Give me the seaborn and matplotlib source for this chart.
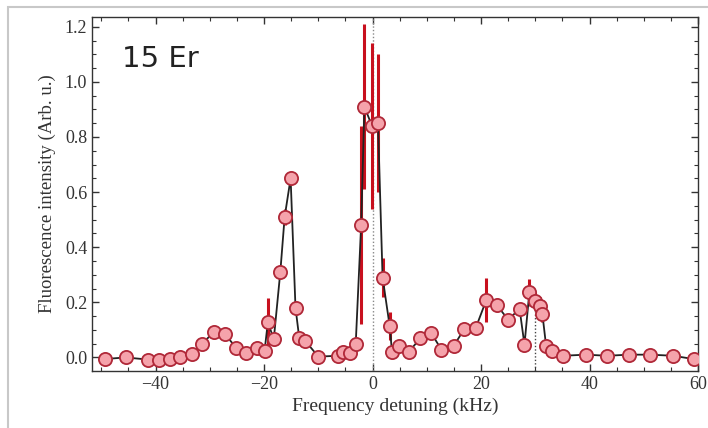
import numpy as np
import pandas as pd
import matplotlib
matplotlib.use("Agg")
import matplotlib.pyplot as plt
from matplotlib.ticker import MultipleLocator
from matplotlib.patches import Rectangle
import seaborn as sns

# Data
freq = [-49.4, -45.5, -41.3, -39.4, -37.4, -35.4, -33.3, -31.4, -29.2, -27.2,
        -25.2, -23.3, -21.3, -19.9, -19.3, -18.2, -17.0, -16.2, -15.1, -14.2,
        -13.5, -12.4, -10.0, -6.3, -5.4, -4.2, -3.1, -2.1, -1.5, -0.1,
        1.0, 1.85, 3.15, 3.6, 4.9, 6.7, 8.8, 10.8, 12.7, 15.0,
        16.9, 19.0, 21.0, 22.9, 25.0, 27.1, 28.0, 28.9, 29.9, 30.8,
        31.3, 32.0, 33.1, 35.1, 39.3, 43.3, 47.2, 51.2, 55.4, 59.2]
intensity = [-0.006, 0.0, -0.008, -0.008, -0.006, 0.003, 0.012, 0.05, 0.093, 0.085,
             0.036, 0.016, 0.033, 0.024, 0.127, 0.067, 0.31, 0.51, 0.65, 0.18,
             0.069, 0.06, 0.003, 0.006, 0.018, 0.015, 0.05, 0.48, 0.91, 0.84,
             0.85, 0.29, 0.115, 0.018, 0.04, 0.021, 0.069, 0.089, 0.028, 0.043,
             0.103, 0.106, 0.21, 0.19, 0.137, 0.176, 0.046, 0.236, 0.206, 0.188,
             0.158, 0.04, 0.022, 0.006, 0.01, 0.006, 0.01, 0.01, 0.006, -0.006]
errors = [0, 0, 0, 0, 0, 0, 0, 0, 0, 0,
          0, 0, 0.01, 0.02, 0.09, 0.02, 0.02, 0.03, 0.02, 0.02,
          0, 0, 0, 0, 0, 0, 0.01, 0.36, 0.30, 0.30,
          0.25, 0.07, 0.05, 0, 0.01, 0, 0.01, 0, 0, 0,
          0.01, 0.02, 0.08, 0.02, 0.01, 0.02, 0.01, 0.05, 0.03, 0.03,
          0.03, 0.01, 0, 0, 0, 0, 0, 0, 0, 0]
xticks = [-40, -20, 0, 20, 40, 60]
yticks = [0.0, 0.2, 0.4, 0.6, 0.8, 1.0, 1.2]
resonances = [0, 30]

df = pd.DataFrame({"freq": freq, "intensity": intensity, "err": errors})

sns.set_theme(style="ticks")
plt.rcParams['font.family'] = ['Liberation Serif', 'DejaVu Serif']

fig = plt.figure(figsize=(7.08, 4.28), dpi=100)
ax = fig.add_axes([0.130, 0.134, 0.856, 0.826])

# image border
fig.patches.append(Rectangle((8 / 708, -0.1), 1.2, (1 - 7 / 428) + 0.1,
                             transform=fig.transFigure, fill=False,
                             edgecolor="#c8c8c8", linewidth=1.5, zorder=0))

# resonance markers
ax.axvline(resonances[0], color="#888888", linestyle=(0, (1, 1.5)), linewidth=1.0, zorder=1)
ax.plot([resonances[1], resonances[1]], [-0.05, 0.25], color="#444444",
        linestyle=(0, (1, 1.5)), linewidth=1.0, zorder=1)

ax.errorbar(df["freq"], df["intensity"], yerr=df["err"], fmt="none",
            ecolor="#c8101e", elinewidth=2.2, capsize=0, zorder=2)
sns.lineplot(data=df, x="freq", y="intensity", color="#222222", linewidth=1.3,
             ax=ax, zorder=3, sort=False)
sns.scatterplot(data=df, x="freq", y="intensity", s=90, color="#f5a3ab",
                edgecolor="#b02838", linewidth=1.3, ax=ax, zorder=4)

ax.set_xlim(-51.7, 60)
ax.set_ylim(-0.048, 1.235)
ax.set_xticks(xticks)
ax.set_xticklabels([f"{v}".replace("-", "\u2212") for v in xticks])
ax.set_yticks(yticks)
ax.set_yticklabels([f"{v:.1f}" for v in yticks])
ax.xaxis.set_minor_locator(MultipleLocator(5))
ax.yaxis.set_minor_locator(MultipleLocator(0.05))
ax.tick_params(which="both", direction="in", top=True, right=True,
               labelsize=13, colors="#333333")
ax.tick_params(which="major", length=5, width=1)
ax.tick_params(which="minor", length=3, width=0.8)
for s in ax.spines.values():
    s.set_color("#333333")
    s.set_linewidth(1.0)

ax.set_xlabel("Frequency detuning (kHz)", fontsize=14, color="#333333", labelpad=4)
ax.set_ylabel("Fluorescence intensity (Arb. u.)", fontsize=13.5, color="#333333", labelpad=6)

ax.text(0.05, 0.86, "15 Er", transform=ax.transAxes, fontsize=21,
        family=["DejaVu Sans"], color="#222222")

fig.savefig("out.png", dpi=100)
